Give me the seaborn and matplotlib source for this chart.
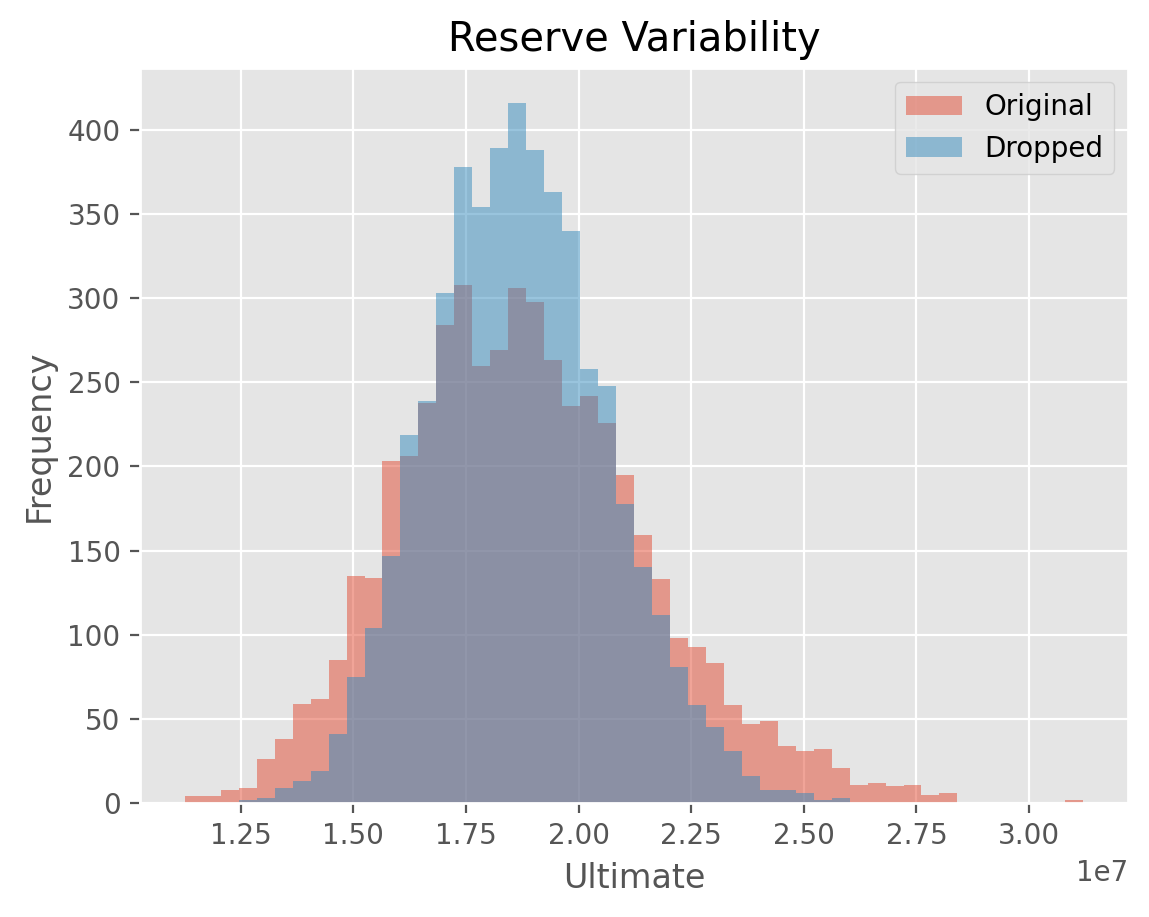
import numpy as np
import pandas as pd
import matplotlib
matplotlib.use('Agg')
import matplotlib.pyplot as plt
import seaborn as sns

plt.style.use('ggplot')
plt.rcParams['font.family'] = ['DejaVu Sans']

# 50 common bins between the lowest and highest ultimate (in units of 1e7)
bin_lo = 1.126e7
bin_hi = 3.120e7
n_bins = 50

original_counts = [4, 4, 8, 9, 26, 38, 59, 62, 85, 135,
                   134, 203, 206, 238, 284, 308, 260, 269, 306, 298,
                   263, 236, 242, 226, 195, 159, 133, 98, 93, 83,
                   58, 47, 49, 34, 31, 32, 21, 11, 12, 10,
                   11, 5, 6, 0, 0, 0, 0, 0, 0, 2]
dropped_counts = [0, 0, 0, 2, 3, 9, 13, 19, 41, 75,
                  104, 147, 219, 239, 303, 378, 354, 389, 416, 388,
                  363, 340, 258, 248, 178, 140, 112, 81, 58, 45,
                  31, 16, 8, 8, 6, 2, 3, 0, 0, 0,
                  0, 0, 0, 0, 0, 0, 0, 0, 0, 0]

edges = np.linspace(bin_lo, bin_hi, n_bins + 1)
df = pd.DataFrame({
    'Ultimate': (edges[:-1] + edges[1:]) / 2,
    'Original': original_counts,
    'Dropped': dropped_counts,
})

fig = plt.figure(figsize=(5.745, 4.585), dpi=200)
ax = fig.add_axes([0.1218, 0.1243, 0.860, 0.8015])

sns.histplot(data=df, x='Ultimate', weights='Original', bins=n_bins,
             binrange=(bin_lo, bin_hi), color='#E24A33', alpha=0.5,
             linewidth=0, label='Original', ax=ax)
sns.histplot(data=df, x='Ultimate', weights='Dropped', bins=n_bins,
             binrange=(bin_lo, bin_hi), color='#348ABD', alpha=0.5,
             linewidth=0, label='Dropped', ax=ax)

ax.set_title('Reserve Variability')
ax.set_xlabel('Ultimate')
ax.set_ylabel('Frequency')
ax.legend(loc='upper right')

fig.savefig('out.png', dpi=200)
plt.close()
